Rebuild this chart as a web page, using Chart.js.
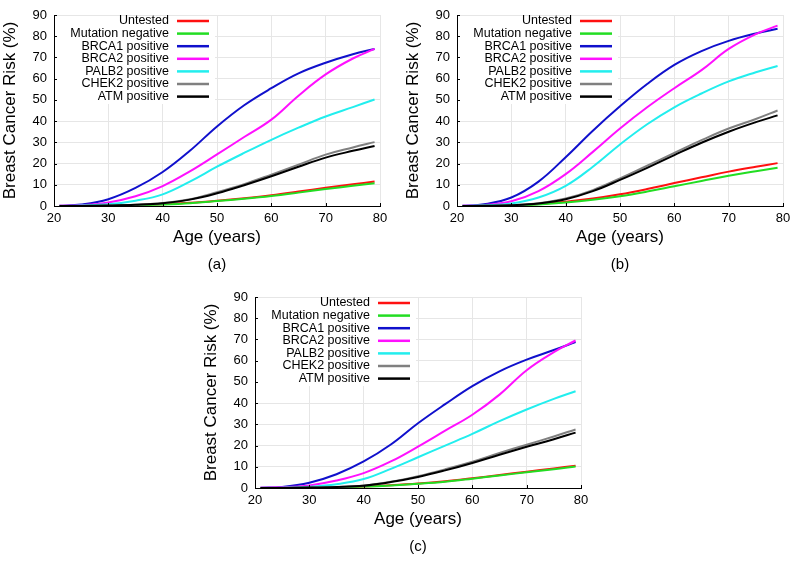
<!DOCTYPE html>
<html>
<head>
<meta charset="utf-8">
<script src="https://cdn.jsdelivr.net/npm/chart.js@4.4.0/dist/chart.umd.min.js"></script>
<style>
html, body { margin: 0; padding: 0; background: #fff; overflow: hidden; width: 800px; height: 561px; }
canvas { position: absolute; }
</style>
</head>
<body>
<canvas id="chartA" width="400" height="280" style="left:0px;top:0px"></canvas>
<canvas id="chartB" width="400" height="280" style="left:403px;top:0px"></canvas>
<canvas id="chartC" width="400" height="280" style="left:201px;top:282px"></canvas>
<script>
// ages sampled along the curves
var ages = [21, 25, 30, 35, 40, 45, 50, 55, 60, 65, 70, 75, 79];
var seriesNames = ['Untested', 'Mutation negative', 'BRCA1 positive', 'BRCA2 positive',
                   'PALB2 positive', 'CHEK2 positive', 'ATM positive'];
var seriesColors = ['#ff1010', '#22dd22', '#1010cc', '#ff10ff', '#22eeee', '#808080', '#000000'];
var xTicks = [20, 30, 40, 50, 60, 70, 80];
var yTicks = [0, 10, 20, 30, 40, 50, 60, 70, 80, 90];
var captions = ['(a)', '(b)', '(c)'];

// (a)
var untestedA = [0, 0.05, 0.15, 0.4, 0.8, 1.5, 2.5, 3.7, 5.1, 6.8, 8.6, 10.2, 11.5];
var negativeA = [0, 0.05, 0.15, 0.35, 0.7, 1.3, 2.3, 3.4, 4.7, 6.3, 8, 9.5, 10.7];
var brca1A = [0.1, 0.7, 3.2, 8.5, 16, 26, 37.5, 47.5, 55.5, 62.5, 67.5, 71.5, 74];
var brca2A = [0.1, 0.4, 1.7, 4.6, 9.4, 16.3, 24.3, 32.5, 40.7, 52, 62, 69.5, 74];
var palb2A = [0, 0.2, 0.8, 2.5, 5.5, 11.5, 18.5, 25, 31.2, 36.9, 42.2, 46.6, 50.2];
var chek2A = [0, 0.05, 0.2, 0.6, 1.4, 3.2, 6.5, 10.3, 14.8, 19.5, 24.2, 27.6, 30.1];
var atmA = [0, 0.05, 0.2, 0.55, 1.3, 3, 6, 9.8, 14, 18.5, 22.8, 26, 28.3];

// (b)
var untestedB = [0, 0.05, 0.3, 0.9, 2, 3.5, 5.5, 8, 10.8, 13.5, 16.2, 18.5, 20.2];
var negativeB = [0, 0.05, 0.2, 0.7, 1.6, 2.9, 4.6, 6.8, 9.3, 11.8, 14.3, 16.4, 18];
var brca1B = [0.1, 0.8, 4, 11.5, 23, 35.5, 47, 57.5, 66.5, 73, 77.8, 81.3, 83.5];
var brca2B = [0.1, 0.5, 2.2, 7, 15, 25.5, 36.5, 46.5, 55.5, 64, 74, 81, 85];
var palb2B = [0, 0.3, 1.2, 4, 9.5, 18.5, 29, 38.5, 46.5, 53, 58.7, 63, 66];
var chek2B = [0, 0.1, 0.4, 1.3, 3.5, 7.5, 13, 19, 25, 31, 36.5, 41, 45];
var atmB = [0, 0.1, 0.4, 1.2, 3.2, 7, 12.3, 18, 24, 29.8, 35, 39.5, 42.7];

// (c)
var untestedC = [0, 0.05, 0.15, 0.35, 0.7, 1.3, 2.1, 3.2, 4.6, 6.1, 7.7, 9.2, 10.5];
var negativeC = [0, 0.05, 0.15, 0.33, 0.65, 1.2, 2, 3, 4.4, 5.9, 7.4, 8.8, 10.1];
var brca1C = [0.1, 0.5, 2.5, 6.5, 12.5, 20.5, 30.5, 39.5, 48, 55, 60.5, 65, 68.8];
var brca2C = [0.1, 0.3, 1.2, 3.5, 7, 12.5, 19.5, 27, 34.5, 44, 55.5, 64, 69.5];
var palb2C = [0, 0.15, 0.6, 1.8, 4.2, 9, 14.5, 20, 25.5, 31.5, 37, 42, 45.6];
var chek2C = [0, 0.05, 0.2, 0.5, 1.2, 3, 5.6, 8.8, 12.4, 16.5, 20.4, 24.3, 27.6];
var atmC = [0, 0.05, 0.2, 0.5, 1.1, 2.8, 5.2, 8.3, 11.8, 15.7, 19.4, 23, 26.1];

var FONT = '"Liberation Sans", Arial, Helvetica, sans-serif';

// legend (right aligned text, line sample after it), inward ticks, caption
var paperPlugin = {
  id: 'paper',
  beforeDatasetsDraw: function(chart) {
    var a = chart.chartArea, ctx = chart.ctx;
    ctx.save();
    ctx.fillStyle = '#ffffff';
    ctx.fillRect(a.left + 1, a.top + 1, 160, 88);
    ctx.restore();
  },
  afterDraw: function(chart, args, opts) {
    var a = chart.chartArea, ctx = chart.ctx;
    var xs = chart.scales.x, ys = chart.scales.y;
    ctx.save();
    ctx.strokeStyle = '#000';
    ctx.lineWidth = 1;
    xTicks.forEach(function(v) {
      var px = Math.round(xs.getPixelForValue(v)) + 0.5;
      ctx.beginPath(); ctx.moveTo(px, a.bottom); ctx.lineTo(px, a.bottom - 3); ctx.stroke();
    });
    yTicks.forEach(function(v) {
      var py = Math.round(ys.getPixelForValue(v)) + 0.5;
      ctx.beginPath(); ctx.moveTo(a.left, py); ctx.lineTo(a.left + 3, py); ctx.stroke();
    });

    ctx.font = '12.5px ' + FONT;
    ctx.textAlign = 'right';
    ctx.textBaseline = 'middle';
    chart.data.datasets.forEach(function(ds, i) {
      var y = a.top + 6 + i * 12.6;
      ctx.fillStyle = '#000';
      ctx.fillText(ds.label, a.left + 115, y);
      ctx.strokeStyle = ds.borderColor;
      ctx.lineWidth = 2.5;
      ctx.beginPath(); ctx.moveTo(a.left + 123, y); ctx.lineTo(a.left + 155, y); ctx.stroke();
    });

    ctx.font = '15px ' + FONT;
    ctx.textAlign = 'center';
    ctx.fillStyle = '#000';
    ctx.fillText(opts.caption, (a.left + a.right) / 2, 265);
    ctx.restore();
  }
};

function makeChart(id, series, caption) {
  var datasets = series.map(function(vals, i) {
    return {
      label: seriesNames[i],
      data: ages.map(function(age, j) { return {x: age, y: vals[j]}; }),
      borderColor: seriesColors[i],
      backgroundColor: seriesColors[i],
      borderWidth: 2,
      pointRadius: 0,
      fill: false,
      tension: 0.4,
      order: series.length - i
    };
  });
  return new Chart(document.getElementById(id), {
    type: 'line',
    data: { datasets: datasets },
    plugins: [paperPlugin],
    options: {
      responsive: false,
      animation: false,
      devicePixelRatio: 1,
      layout: { padding: { left: 0, top: 15, right: 20, bottom: 0 } },
      plugins: {
        legend: { display: false },
        tooltip: { enabled: false },
        paper: { caption: caption }
      },
      scales: {
        x: {
          type: 'linear', min: 20, max: 80,
          afterBuildTicks: function(s) { s.ticks = xTicks.map(function(v) { return {value: v}; }); },
          afterFit: function(s) { s.height = 74; },
          ticks: { color: '#000', font: { size: 13, family: FONT }, padding: 5, maxRotation: 0 },
          grid: { color: '#e6e6e6', drawTicks: false },
          border: { color: '#000', width: 1 },
          title: { display: true, text: 'Age (years)', color: '#000',
                   font: { size: 17, family: FONT }, padding: { top: 0, bottom: 32 } }
        },
        y: {
          type: 'linear', min: 0, max: 90,
          afterBuildTicks: function(s) { s.ticks = yTicks.map(function(v) { return {value: v}; }); },
          afterFit: function(s) { s.width = 54; },
          ticks: { color: '#000', font: { size: 13, family: FONT }, padding: 7 },
          grid: { color: '#e6e6e6', drawTicks: false },
          border: { color: '#000', width: 1 },
          title: { display: true, text: 'Breast Cancer Risk (%)', color: '#000',
                   font: { size: 17, family: FONT }, padding: { top: 0, bottom: 0 } }
        }
      }
    }
  });
}

makeChart('chartA', [untestedA, negativeA, brca1A, brca2A, palb2A, chek2A, atmA], captions[0]);
makeChart('chartB', [untestedB, negativeB, brca1B, brca2B, palb2B, chek2B, atmB], captions[1]);
makeChart('chartC', [untestedC, negativeC, brca1C, brca2C, palb2C, chek2C, atmC], captions[2]);
</script>
</body>
</html>
